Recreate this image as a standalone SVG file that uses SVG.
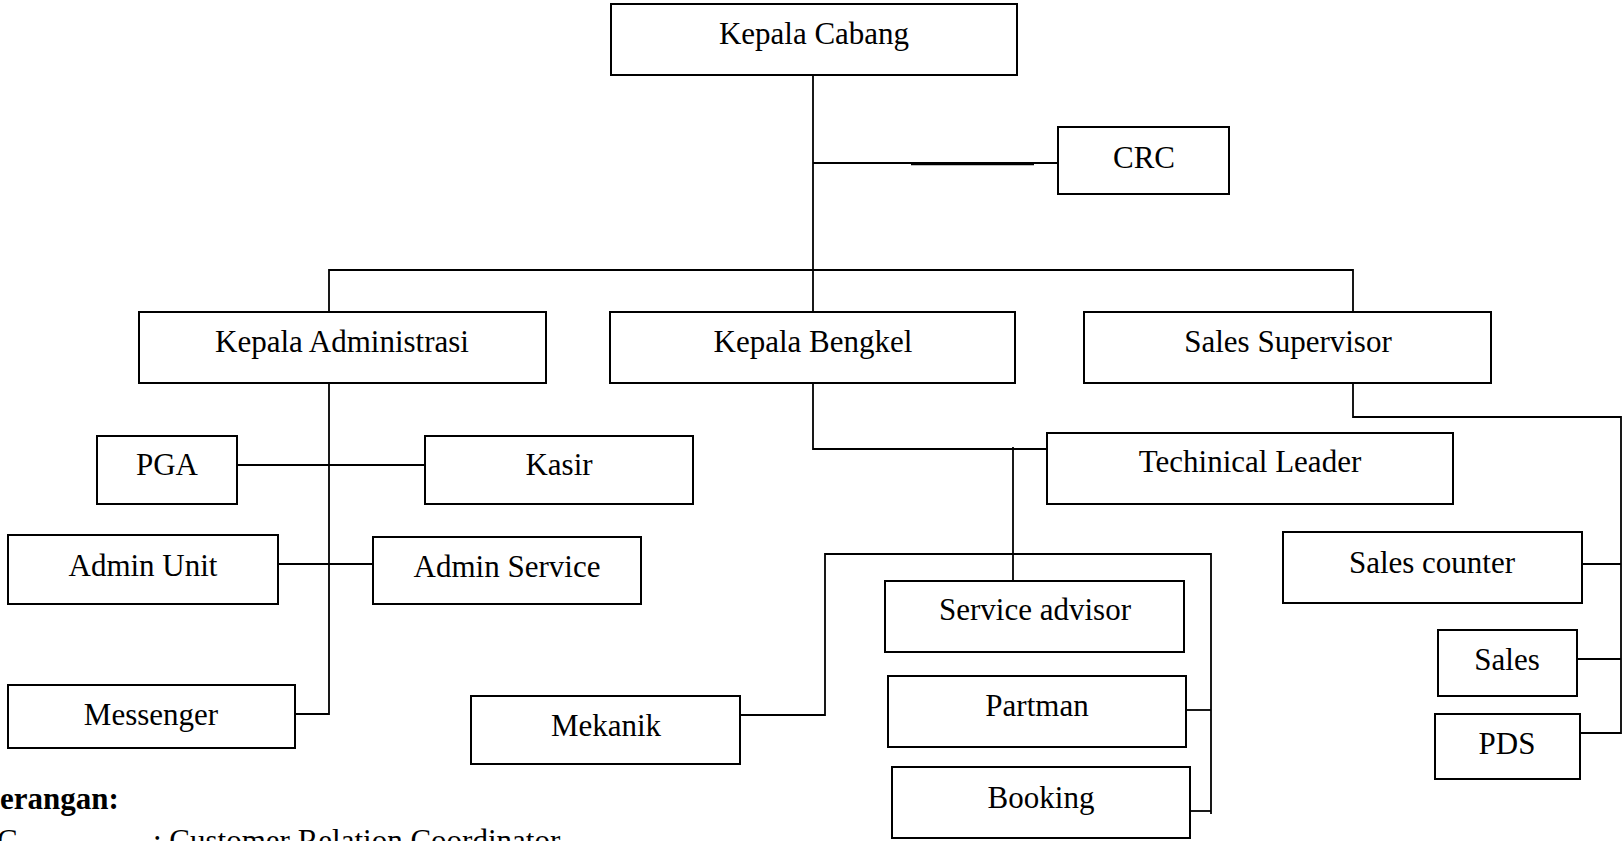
<svg xmlns="http://www.w3.org/2000/svg" width="1624" height="841" viewBox="0 0 1624 841">
<style>
.box{fill:#fff;stroke:#000;stroke-width:2}
.t{font-family:"Liberation Serif","Times New Roman",serif;font-size:31px;fill:#000;text-anchor:middle}
.lg{font-family:"Liberation Serif","Times New Roman",serif;font-size:31px;fill:#000}
.c{fill:none;stroke:#000;stroke-width:1.8}
</style>
<rect width="1624" height="841" fill="#fff"/>
<g id="connectors">
<path class="c" d="M813 75V312"/>
<path class="c" d="M813 163H1058"/>
<path d="M911 164H1034" stroke="#000" stroke-width="2.6" fill="none"/>
<path class="c" d="M329 312V270H1353V312"/>
<path class="c" d="M329 383V714H295"/>
<path class="c" d="M237 465H425"/>
<path class="c" d="M278 564H373"/>
<path class="c" d="M813 383V449H1047"/>
<path class="c" d="M1013 447V581"/>
<path class="c" d="M740 715H825V554H1211V814"/>
<path class="c" d="M1186 710H1211"/>
<path class="c" d="M1190 811H1211"/>
<path class="c" d="M1353 383V417H1621V734"/>
<path class="c" d="M1582 564H1621"/>
<path class="c" d="M1577 659H1621"/>
<path class="c" d="M1580 733H1621"/>
</g>
<g id="kepala-cabang"><rect class="box" x="611" y="4" width="406" height="71"/><text class="t" x="814" y="44">Kepala Cabang</text></g>
<g id="crc"><rect class="box" x="1058" y="127" width="171" height="67"/><text class="t" x="1144" y="168">CRC</text></g>
<g id="kepala-administrasi"><rect class="box" x="139" y="312" width="407" height="71"/><text class="t" x="342" y="352">Kepala Administrasi</text></g>
<g id="kepala-bengkel"><rect class="box" x="610" y="312" width="405" height="71"/><text class="t" x="813" y="352">Kepala Bengkel</text></g>
<g id="sales-supervisor"><rect class="box" x="1084" y="312" width="407" height="71"/><text class="t" x="1288" y="352">Sales Supervisor</text></g>
<g id="pga"><rect class="box" x="97" y="436" width="140" height="68"/><text class="t" x="167" y="475">PGA</text></g>
<g id="kasir"><rect class="box" x="425" y="436" width="268" height="68"/><text class="t" x="559" y="475">Kasir</text></g>
<g id="admin-unit"><rect class="box" x="8" y="535" width="270" height="69"/><text class="t" x="143" y="576">Admin Unit</text></g>
<g id="admin-service"><rect class="box" x="373" y="537" width="268" height="67"/><text class="t" x="507" y="577">Admin Service</text></g>
<g id="messenger"><rect class="box" x="8" y="685" width="287" height="63"/><text class="t" x="151" y="725">Messenger</text></g>
<g id="techinical-leader"><rect class="box" x="1047" y="433" width="406" height="71"/><text class="t" x="1250" y="472">Techinical Leader</text></g>
<g id="mekanik"><rect class="box" x="471" y="696" width="269" height="68"/><text class="t" x="606" y="736">Mekanik</text></g>
<g id="service-advisor"><rect class="box" x="885" y="581" width="299" height="71"/><text class="t" x="1035" y="620">Service advisor</text></g>
<g id="partman"><rect class="box" x="888" y="676" width="298" height="71"/><text class="t" x="1037" y="716">Partman</text></g>
<g id="booking"><rect class="box" x="892" y="767" width="298" height="71"/><text class="t" x="1041" y="808">Booking</text></g>
<g id="sales-counter"><rect class="box" x="1283" y="532" width="299" height="71"/><text class="t" x="1432" y="573">Sales counter</text></g>
<g id="sales"><rect class="box" x="1438" y="630" width="139" height="66"/><text class="t" x="1507" y="670">Sales</text></g>
<g id="pds"><rect class="box" x="1435" y="714" width="145" height="65"/><text class="t" x="1507" y="754">PDS</text></g>
<g id="legend">
<text class="lg" x="0" y="809" font-weight="bold">erangan:</text>
<text class="lg" x="-3" y="851">C</text>
<text class="lg" x="153" y="851">: Customer Relation Coordinator</text>
</g>
</svg>
